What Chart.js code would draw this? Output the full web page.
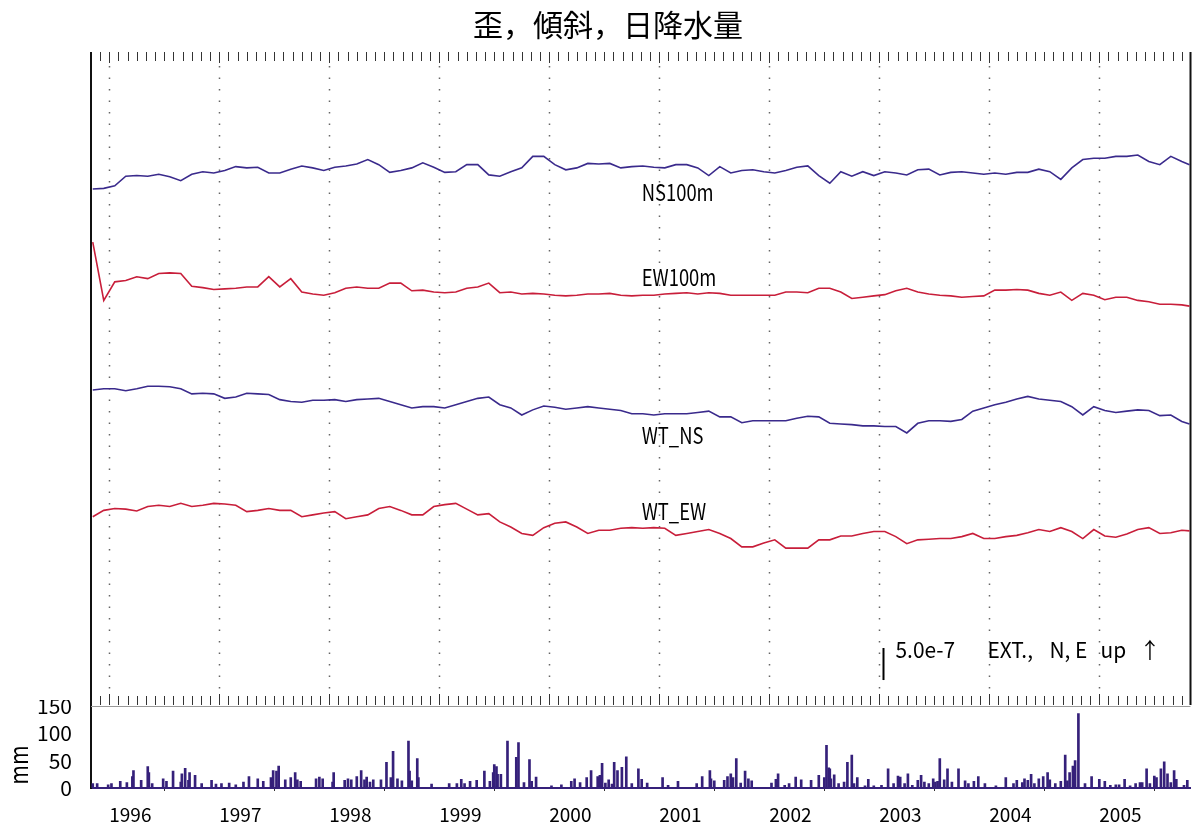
<!DOCTYPE html>
<html>
<head>
<meta charset="utf-8">
<script src="https://cdn.jsdelivr.net/npm/chart.js@4.4.0/dist/chart.umd.min.js"></script>
<style>
  html, body { margin: 0; padding: 0; background: #fff; overflow: hidden; }
  canvas { position: absolute; left: 0; }
  #strain { top: 0; }
  #rain { top: 700px; }
</style>
</head>
<body>
<canvas id="strain" width="1192" height="708"></canvas>
<canvas id="rain" width="1192" height="140"></canvas>
<script>
// sample times (decimal year) shared by the four strain / tilt records
const times = [
  1995.85, 1995.95,
  1996.05, 1996.15, 1996.25, 1996.35, 1996.45, 1996.55, 1996.65, 1996.75, 1996.85, 1996.95,
  1997.05, 1997.15, 1997.25, 1997.35, 1997.45, 1997.55, 1997.65, 1997.75, 1997.85, 1997.95,
  1998.05, 1998.15, 1998.25, 1998.35, 1998.45, 1998.55, 1998.65, 1998.75, 1998.85, 1998.95,
  1999.05, 1999.15, 1999.25, 1999.35, 1999.45, 1999.55, 1999.65, 1999.75, 1999.85, 1999.95,
  2000.05, 2000.15, 2000.25, 2000.35, 2000.45, 2000.55, 2000.65, 2000.75, 2000.85, 2000.95,
  2001.05, 2001.15, 2001.25, 2001.35, 2001.45, 2001.55, 2001.65, 2001.75, 2001.85, 2001.95,
  2002.05, 2002.15, 2002.25, 2002.35, 2002.45, 2002.55, 2002.65, 2002.75, 2002.85, 2002.95,
  2003.05, 2003.15, 2003.25, 2003.35, 2003.45, 2003.55, 2003.65, 2003.75, 2003.85, 2003.95,
  2004.05, 2004.15, 2004.25, 2004.35, 2004.45, 2004.55, 2004.65, 2004.75, 2004.85, 2004.95,
  2005.05, 2005.15, 2005.25, 2005.35, 2005.45, 2005.55, 2005.65, 2005.75, 2005.82
];

// changes in units of 1e-8 (extension, N/E up), relative to each trace's level
const ns100m = [
  -30, -29, -25, -10, -9, -10, -7, -11, -17, -7,
  -3, -5, -1, 5, 3, 4, -5, -5, 1, 6,
  3, -1, 4, 6, 9, 16, 8, -4, -1, 3,
  11, 4, -4, -3, 8, 8, -8, -10, -3, 3,
  21, 21, 8, 0, 3, 10, 9, 10, 3, 5,
  6, 4, 3, 8, 8, 3, -9, 5, -5, -1,
  0, -3, -5, -1, 4, 6, -9, -21, -3, -10,
  -3, -9, -3, -5, -8, 0, 1, -8, -4, -3,
  -5, -7, -5, -7, -4, -4, 1, -3, -15, 3,
  16, 18, 18, 21, 21, 23, 13, 8, 21, 13,
  8
];
const ew100m = [
  75, -16, 13, 15, 21, 18, 26, 27, 26, 6,
  4, 1, 2, 3, 5, 5, 21, 5, 18, -3,
  -6, -8, -4, 3, 5, 3, 3, 11, 11, -1,
  0, -3, -4, -3, 3, 5, 11, -4, -3, -6,
  -5, -6, -8, -9, -8, -6, -6, -5, -8, -9,
  -8, -8, -6, -5, -4, -6, -4, -5, -8, -8,
  -8, -8, -8, -3, -3, -4, 3, 3, -3, -13,
  -11, -9, -7, -1, 3, -3, -6, -8, -9, -11,
  -10, -9, 0, 0, 1, 0, -5, -8, -3, -16,
  -5, -8, -15, -11, -11, -16, -18, -22, -22, -23,
  -25
];
const wtNs = [
  23, 25, 25, 22, 25, 29, 29, 28, 25, 17,
  18, 17, 10, 12, 18, 17, 16, 8, 5, 4,
  7, 7, 8, 5, 8, 9, 10, 5, 0, -5,
  -3, -3, -5, 0, 5, 10, 12, 0, -5, -16,
  -8, -2, -4, -7, -5, -3, -5, -7, -9, -14,
  -14, -16, -14, -14, -14, -12, -10, -19, -19, -28,
  -25, -25, -25, -25, -21, -18, -19, -29, -30, -31,
  -33, -33, -34, -34, -44, -29, -25, -25, -26, -23,
  -10, -5, 0, 4, 9, 13, 9, 7, 5, -3,
  -16, -3, -9, -12, -10, -8, -9, -17, -16, -26,
  -30
];
const wtEw = [
  13, 23, 26, 25, 22, 29, 31, 29, 34, 29,
  31, 34, 33, 31, 21, 23, 26, 23, 23, 13,
  16, 19, 21, 10, 13, 16, 26, 29, 23, 16,
  16, 29, 32, 34, 25, 16, 18, 5, -3, -13,
  -16, -4, 3, 5, -3, -13, -8, -8, -5, -4,
  -5, -4, -5, -16, -13, -10, -7, -13, -21, -34,
  -34, -28, -23, -36, -36, -36, -23, -23, -17, -17,
  -13, -10, -10, -18, -29, -23, -22, -21, -21, -18,
  -13, -21, -21, -18, -16, -12, -7, -10, -4, -10,
  -21, -7, -17, -19, -14, -7, -4, -13, -12, -8,
  -9
];

const seriesNames = ['NS100m', 'EW100m', 'WT_NS', 'WT_EW'];
const seriesLevels = [836, 648, 469, 281];   // display offset of each trace
const labelLevels = [801, 668, 422, 302];
const labelTime = 2000.84;

// daily precipitation (mm)
const rainDates = [
  1995.85, 1995.89, 1995.99, 1996.02, 1996.10, 1996.16, 1996.21, 1996.22, 1996.29, 1996.35,
  1996.36, 1996.39, 1996.49, 1996.52, 1996.58, 1996.65, 1996.66, 1996.69, 1996.72, 1996.73,
  1996.78, 1996.84, 1996.93, 1996.97, 1997.02, 1997.09, 1997.15, 1997.22, 1997.27, 1997.35,
  1997.40, 1997.47, 1997.49, 1997.52, 1997.54, 1997.60, 1997.65, 1997.69, 1997.71, 1997.74,
  1997.88, 1997.91, 1997.94, 1998.03, 1998.04, 1998.14, 1998.17, 1998.20, 1998.25, 1998.29,
  1998.32, 1998.34, 1998.37, 1998.40, 1998.47, 1998.52, 1998.56, 1998.58, 1998.62, 1998.66,
  1998.72, 1998.73, 1998.75, 1998.80, 1998.81, 1998.93, 1999.09, 1999.16, 1999.20, 1999.23,
  1999.28, 1999.34, 1999.41, 1999.46, 1999.49, 1999.50, 1999.52, 1999.53, 1999.56, 1999.62,
  1999.70, 1999.72, 1999.77, 1999.82, 1999.84, 1999.88, 2000.02, 2000.11, 2000.20, 2000.23,
  2000.28, 2000.34, 2000.38, 2000.44, 2000.46, 2000.48, 2000.51, 2000.54, 2000.57, 2000.59,
  2000.62, 2000.66, 2000.70, 2000.75, 2000.81, 2000.84, 2000.89, 2001.03, 2001.08, 2001.17,
  2001.34, 2001.39, 2001.46, 2001.47, 2001.50, 2001.59, 2001.62, 2001.65, 2001.67, 2001.70,
  2001.74, 2001.78, 2001.81, 2001.84, 2002.02, 2002.06, 2002.08, 2002.14, 2002.18, 2002.24,
  2002.29, 2002.38, 2002.45, 2002.50, 2002.52, 2002.54, 2002.55, 2002.56, 2002.59, 2002.63,
  2002.68, 2002.71, 2002.75, 2002.77, 2002.80, 2002.87, 2002.90, 2002.95, 2003.02, 2003.08,
  2003.13, 2003.17, 2003.19, 2003.23, 2003.26, 2003.30, 2003.35, 2003.38, 2003.41, 2003.45,
  2003.49, 2003.51, 2003.53, 2003.55, 2003.59, 2003.62, 2003.66, 2003.72, 2003.78, 2003.81,
  2003.86, 2003.90, 2003.96, 2004.06, 2004.15, 2004.22, 2004.25, 2004.30, 2004.32, 2004.35,
  2004.38, 2004.41, 2004.45, 2004.49, 2004.53, 2004.55, 2004.60, 2004.65, 2004.69, 2004.71,
  2004.73, 2004.76, 2004.78, 2004.81, 2004.87, 2004.93, 2005.00, 2005.05, 2005.10, 2005.15,
  2005.18, 2005.23, 2005.28, 2005.33, 2005.37, 2005.39, 2005.43, 2005.46, 2005.50, 2005.52,
  2005.56, 2005.59, 2005.62, 2005.65, 2005.68, 2005.70, 2005.77, 2005.80
];
const rainMm = [
  8, 8, 6, 8, 12, 10, 21, 32, 14, 39,
  28, 8, 17, 12, 31, 11, 26, 36, 14, 28,
  23, 8, 14, 7, 8, 9, 6, 11, 21, 17,
  12, 19, 32, 31, 40, 15, 19, 28, 15, 12,
  17, 20, 17, 11, 28, 14, 17, 15, 21, 32,
  15, 20, 11, 15, 15, 47, 19, 67, 17, 13,
  86, 31, 13, 54, 19, 7, 8, 8, 16, 8,
  12, 14, 31, 12, 28, 43, 39, 25, 25, 86,
  56, 83, 10, 52, 12, 20, 4, 6, 12, 17,
  10, 19, 32, 21, 23, 45, 9, 15, 7, 47,
  32, 38, 57, 8, 35, 16, 9, 19, 5, 12,
  8, 21, 32, 17, 13, 14, 21, 26, 19, 54,
  9, 31, 17, 13, 9, 16, 26, 5, 8, 20,
  15, 14, 23, 19, 78, 37, 35, 17, 24, 8,
  11, 47, 60, 8, 19, 4, 16, 4, 5, 35,
  8, 22, 20, 8, 26, 5, 14, 23, 11, 8,
  17, 11, 12, 54, 15, 35, 11, 35, 13, 8,
  12, 21, 8, 4, 19, 8, 14, 10, 17, 14,
  25, 8, 17, 21, 28, 15, 8, 12, 60, 13,
  28, 40, 50, 136, 8, 21, 16, 12, 5, 6,
  6, 16, 4, 8, 10, 10, 35, 8, 22, 19,
  35, 48, 26, 10, 32, 16, 5, 14
];

const yearTicks = [1996, 1997, 1998, 1999, 2000, 2001, 2002, 2003, 2004, 2005];
const rainTicks = [0, 50, 100, 150];

const xMin = 1995.834, xMax = 2005.829;
const BLUE = '#3a2a8c', RED = '#c81e3a', RAIN = '#35207a';
const FONT = "'Noto Sans CJK JP', sans-serif";

function trace(values, level) {
  return values.map((v, i) => ({ x: times[i], y: v + level }));
}

const zeroPad = s => { s.paddingTop = 0; s.paddingBottom = 0; s.paddingLeft = 0; s.paddingRight = 0; };

// narrow text like the original plot's half-width gothic font
function narrowText(ctx, s, x, y, squeeze) {
  ctx.save();
  ctx.translate(x, y);
  ctx.scale(squeeze, 1);
  ctx.fillText(s, 0, 0);
  ctx.restore();
}

// grid, ticks, frame and annotations of the strain panel
const strainFrame = {
  id: 'strainFrame',
  beforeDatasetsDraw(chart) {
    const { ctx, chartArea: a, scales: { x } } = chart;
    ctx.save();
    ctx.strokeStyle = '#666';
    ctx.lineWidth = 1.5;
    ctx.setLineDash([1.5, 10]);
    yearTicks.forEach(yr => {
      const px = Math.round(x.getPixelForValue(yr)) + 0.5;
      ctx.beginPath();
      ctx.moveTo(px, a.top + 14);
      ctx.lineTo(px, a.bottom - 9);
      ctx.stroke();
    });
    ctx.setLineDash([]);
    ctx.strokeStyle = '#333';
    ctx.lineWidth = 1;
    for (let m = Math.ceil(xMin * 12); m <= xMax * 12; m++) {
      const px = Math.round(x.getPixelForValue(m / 12)) + 0.5;
      const len = m % 12 === 0 ? 11 : 9;
      ctx.beginPath();
      ctx.moveTo(px, a.top);
      ctx.lineTo(px, a.top + len);
      ctx.moveTo(px, a.bottom);
      ctx.lineTo(px, a.bottom - len);
      ctx.stroke();
    }
    ctx.strokeStyle = '#111';
    ctx.lineWidth = 2;
    ctx.beginPath();
    ctx.moveTo(a.left, a.top);
    ctx.lineTo(a.left, chart.height);
    ctx.moveTo(a.right, a.top);
    ctx.lineTo(a.right, a.bottom);
    ctx.stroke();
    ctx.restore();
  },
  afterDraw(chart) {
    const { ctx, scales: { x, y } } = chart;
    ctx.save();
    ctx.fillStyle = '#000';
    ctx.font = '30px ' + FONT;
    ctx.textAlign = 'center';
    ctx.textBaseline = 'middle';
    ctx.fillText('歪，傾斜，日降水量', 608, 25);

    ctx.font = '23px ' + FONT;
    ctx.textAlign = 'left';
    seriesNames.forEach((name, i) => {
      narrowText(ctx, name, x.getPixelForValue(labelTime), y.getPixelForValue(labelLevels[i]), 0.8);
    });

    // 5.0e-7 scale bar
    const bx = Math.round(x.getPixelForValue(2003.03)) + 0.5;
    const b0 = y.getPixelForValue(39), b1 = y.getPixelForValue(39 + 50);
    ctx.strokeStyle = '#000';
    ctx.lineWidth = 2;
    ctx.beginPath();
    ctx.moveTo(bx, b0);
    ctx.lineTo(bx, b1);
    ctx.stroke();
    const ty = b1 + 2;
    ctx.font = '22px ' + FONT;
    [['5.0e-7', 12], ['EXT.,', 104], ['N, E', 166], ['up', 217], ['↑', 256]].forEach(([s, dx]) => {
      narrowText(ctx, s, bx + dx, ty, 0.95);
    });
    ctx.restore();
  }
};

const rainFrame = {
  id: 'rainFrame',
  beforeDatasetsDraw(chart) {
    const { ctx, chartArea: a, scales: { y } } = chart;
    ctx.save();
    ctx.strokeStyle = '#999';
    ctx.lineWidth = 1;
    const top = Math.round(y.getPixelForValue(150)) + 0.5;
    ctx.beginPath();
    ctx.moveTo(a.left, top);
    ctx.lineTo(a.right, top);
    ctx.stroke();
    ctx.restore();
  },
  afterDraw(chart) {
    const { ctx } = chart;
    ctx.save();
    ctx.translate(18, 65);
    ctx.rotate(-Math.PI / 2);
    ctx.fillStyle = '#000';
    ctx.font = '25px ' + FONT;
    ctx.textAlign = 'center';
    ctx.textBaseline = 'middle';
    narrowText(ctx, 'mm', 0, 0, 0.85);
    ctx.restore();
  }
};

const lineStyle = { pointRadius: 0, borderWidth: 1.6, tension: 0, fill: false };

new Chart(document.getElementById('strain'), {
  type: 'line',
  data: {
    datasets: [
      { label: seriesNames[0], data: trace(ns100m, seriesLevels[0]), borderColor: BLUE, ...lineStyle },
      { label: seriesNames[1], data: trace(ew100m, seriesLevels[1]), borderColor: RED, ...lineStyle },
      { label: seriesNames[2], data: trace(wtNs, seriesLevels[2]), borderColor: BLUE, ...lineStyle },
      { label: seriesNames[3], data: trace(wtEw, seriesLevels[3]), borderColor: RED, ...lineStyle }
    ]
  },
  options: {
    responsive: false,
    animation: false,
    layout: { padding: { top: 52, left: 91, right: 1.5, bottom: 3 } },
    plugins: { legend: { display: false }, tooltip: { enabled: false }, title: { display: false } },
    scales: {
      x: { type: 'linear', min: xMin, max: xMax, display: false, afterFit: zeroPad },
      y: { min: 0, max: 1020, display: false, afterFit: zeroPad }
    }
  },
  plugins: [strainFrame]
});

new Chart(document.getElementById('rain'), {
  type: 'bar',
  data: {
    datasets: [{
      label: 'mm',
      data: rainDates.map((t, i) => ({ x: t, y: rainMm[i] })),
      backgroundColor: RAIN,
      barThickness: 2,
      grouped: false
    }]
  },
  options: {
    responsive: false,
    animation: false,
    layout: { padding: { top: 6, left: 0, right: 1.5, bottom: 1.2 } },
    plugins: { legend: { display: false }, tooltip: { enabled: false } },
    scales: {
      x: {
        type: 'linear', min: xMin, max: xMax, offset: false,
        afterBuildTicks: s => { s.ticks = yearTicks.map(v => ({ value: v })); },
        afterFit: zeroPad,
        grid: { drawOnChartArea: false, tickLength: 3, color: '#333' },
        border: { color: RAIN, width: 2 },
        ticks: {
          autoSkip: false, maxRotation: 0, align: 'start', padding: 12.5, color: '#000',
          font: { family: FONT, size: 19 },
          callback: v => String(v)
        }
      },
      y: {
        min: 0, max: 150,
        afterBuildTicks: s => { s.ticks = rainTicks.map(v => ({ value: v })); },
        afterFit: s => { s.width = 91; zeroPad(s); },
        grid: { display: false, drawTicks: false },
        border: { color: '#111', width: 2 },
        ticks: { autoSkip: false, padding: 19, color: '#000', font: { family: FONT, size: 21 } }
      }
    }
  },
  plugins: [rainFrame]
});
</script>
</body>
</html>
